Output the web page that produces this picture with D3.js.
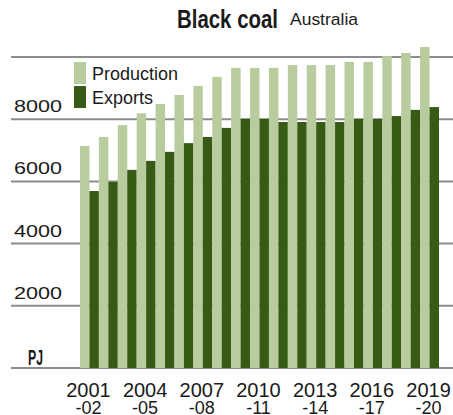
<!DOCTYPE html>
<html>
<head>
<meta charset="utf-8">
<script src="https://cdn.jsdelivr.net/npm/d3@7"></script>
<style>
  body { margin: 0; background: #fff; }
  text { font-family: "Liberation Sans", Arial, sans-serif; fill: #1a1a1a; }
</style>
</head>
<body>
<svg id="chart" width="453" height="415"></svg>
<script>
// Black coal, Australia - production vs exports (PJ)
const years = ['2001-02','2002-03','2003-04','2004-05','2005-06','2006-07','2007-08',
  '2008-09','2009-10','2010-11','2011-12','2012-13','2013-14','2014-15','2015-16',
  '2016-17','2017-18','2018-19','2019-20'];
const production = [7140, 7430, 7810, 8190, 8490, 8780, 9070, 9360, 9650, 9650,
  9650, 9740, 9740, 9740, 9840, 9840, 10030, 10130, 10320];
const exportsPJ = [5690, 5980, 6370, 6660, 6950, 7230, 7430, 7720, 8010, 8010,
  7910, 7910, 7910, 7910, 8010, 8010, 8100, 8300, 8390];
const yTicks = [2000, 4000, 6000, 8000];
const gridTicks = [0, 2000, 4000, 6000, 8000, 10000];
const xLabelYears = ['2001-02','2004-05','2007-08','2010-11','2013-14','2016-17','2019-20'];

const colors = { production: '#b8cc9e', exports: '#375a14', grid: '#8c8c8c' };

const svg = d3.select('#chart');

const x = d3.scaleBand().domain(years).range([80, 439]).paddingInner(0);
const y = d3.scaleLinear().domain([0, 10000]).range([368, 57]);
const half = x.bandwidth() / 2;

// gridlines
svg.append('g').selectAll('line')
  .data(gridTicks)
  .enter().append('line')
  .attr('x1', 11).attr('x2', 453)
  .attr('y1', d => y(d)).attr('y2', d => y(d))
  .attr('stroke', colors.grid).attr('stroke-width', 2);

// bars
const groups = svg.append('g').selectAll('g')
  .data(years)
  .enter().append('g')
  .attr('transform', d => `translate(${x(d)},0)`);

groups.append('rect')
  .attr('x', 0)
  .attr('width', half)
  .attr('y', (d, i) => y(production[i]))
  .attr('height', (d, i) => y(0) - y(production[i]))
  .attr('fill', colors.production);

groups.append('rect')
  .attr('x', half)
  .attr('width', half)
  .attr('y', (d, i) => y(exportsPJ[i]))
  .attr('height', (d, i) => y(0) - y(exportsPJ[i]))
  .attr('fill', colors.exports);

// y tick labels
svg.append('g').selectAll('text')
  .data(yTicks)
  .enter().append('text')
  .attr('x', 62).attr('y', d => y(d) - 7)
  .attr('text-anchor', 'end')
  .attr('font-size', 17)
  .attr('textLength', 48).attr('lengthAdjust', 'spacingAndGlyphs')
  .text(d => d);

svg.append('text')
  .attr('x', 28).attr('y', y(0) - 3)
  .attr('font-size', 22).attr('font-weight', 'bold')
  .attr('textLength', 15).attr('lengthAdjust', 'spacingAndGlyphs')
  .text('PJ');

// x labels (two lines, second line runs to the bottom edge)
const xl = svg.append('g').selectAll('text')
  .data(xLabelYears)
  .enter().append('text')
  .attr('text-anchor', 'middle')
  .attr('font-size', 20);

xl.append('tspan')
  .attr('x', d => x(d) + half - 1).attr('y', 397)
  .text(d => d.slice(0, 4));
xl.append('tspan')
  .attr('x', d => x(d) + half - 1).attr('y', 414)
  .attr('font-size', 18)
  .text(d => '-' + d.slice(5));

// title
svg.append('text')
  .attr('x', 177).attr('y', 28)
  .attr('font-size', 25).attr('font-weight', 'bold')
  .attr('textLength', 101).attr('lengthAdjust', 'spacingAndGlyphs')
  .text('Black coal');
svg.append('text')
  .attr('x', 290).attr('y', 25)
  .attr('font-size', 17)
  .attr('textLength', 68).attr('lengthAdjust', 'spacingAndGlyphs')
  .text('Australia');

// legend
const legend = [['Production', colors.production], ['Exports', colors.exports]];
const lg = svg.append('g').selectAll('g')
  .data(legend)
  .enter().append('g')
  .attr('transform', (d, i) => `translate(74,${62 + i * 24})`);
lg.append('rect')
  .attr('width', 12).attr('height', 22)
  .attr('fill', d => d[1]);
lg.append('text')
  .attr('x', 18).attr('y', 18)
  .attr('font-size', 18)
  .text(d => d[0]);
</script>
</body>
</html>
